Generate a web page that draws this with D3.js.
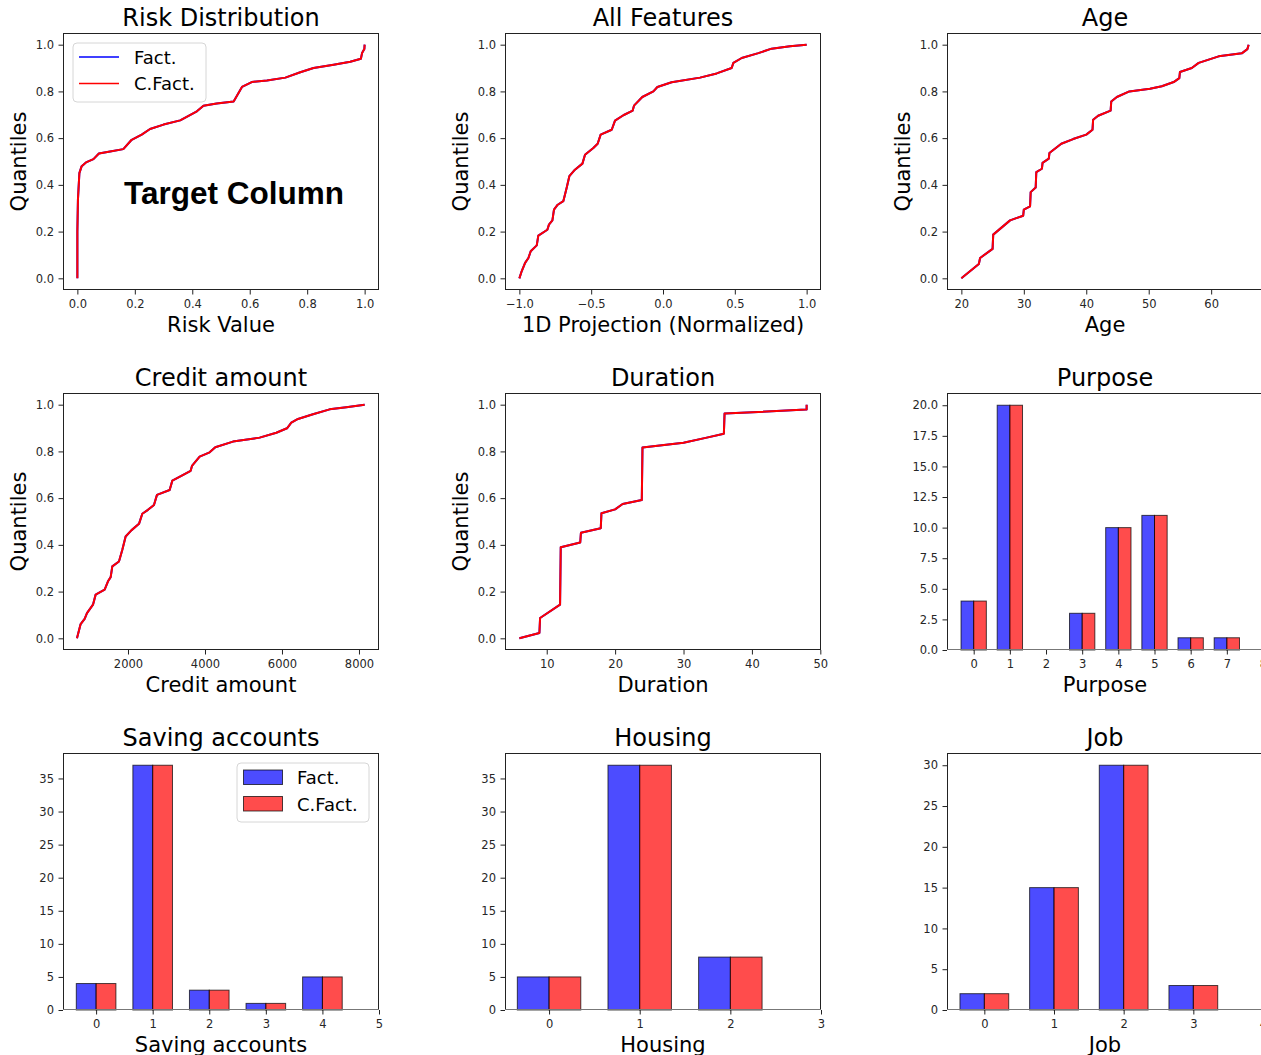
<!DOCTYPE html>
<html>
<head>
<meta charset="utf-8">
<script src="https://cdn.jsdelivr.net/npm/d3@7"></script>
<style>
  body { margin: 0; background: #fff; }
  svg { display: block; font-family: "DejaVu Sans", sans-serif; }
</style>
</head>
<body>
<svg id="fig" width="1261" height="1055"></svg>
<script>
// ---- Quantile curves (value, quantile) ----
const riskValues = [0, 0.0, 0.002, 0.007, 0.015, 0.03, 0.056, 0.075, 0.114, 0.16, 0.189, 0.224, 0.253, 0.3, 0.358, 0.416, 0.439, 0.485, 0.544, 0.573, 0.607, 0.66, 0.724, 0.776, 0.822, 0.892, 0.95, 0.987, 0.991, 0.999, 1.0];
const riskQuantiles = [0, 0.2, 0.337, 0.45, 0.48, 0.496, 0.51, 0.534, 0.543, 0.553, 0.593, 0.615, 0.639, 0.658, 0.676, 0.715, 0.739, 0.748, 0.757, 0.819, 0.84, 0.847, 0.859, 0.882, 0.9, 0.914, 0.927, 0.94, 0.964, 0.981, 1.0];

const projValues = [-1.0, -0.984, -0.96, -0.937, -0.921, -0.879, -0.868, -0.805, -0.794, -0.77, -0.759, -0.733, -0.694, -0.671, -0.652, -0.613, -0.561, -0.543, -0.485, -0.455, -0.434, -0.357, -0.334, -0.276, -0.211, -0.202, -0.144, -0.067, -0.039, 0.06, 0.258, 0.374, 0.478, 0.49, 0.548, 0.664, 0.756, 0.884, 1.0];
const projQuantiles = [0, 0.03, 0.066, 0.087, 0.116, 0.141, 0.183, 0.208, 0.23, 0.248, 0.294, 0.315, 0.33, 0.387, 0.437, 0.465, 0.491, 0.529, 0.558, 0.576, 0.615, 0.636, 0.675, 0.698, 0.718, 0.739, 0.776, 0.8, 0.819, 0.839, 0.859, 0.877, 0.9, 0.922, 0.943, 0.964, 0.983, 0.993, 1.0];

const ageValues = [20, 22.8, 23.0, 25.0, 25.1, 27.8, 29.9, 30.0, 31.0, 31.1, 31.9, 32.0, 32.9, 33.0, 34.0, 34.1, 36.0, 37.9, 40.0, 41.0, 41.1, 41.9, 43.9, 44.0, 44.9, 46.9, 50.2, 52.1, 54.0, 54.9, 55.0, 56.9, 58.0, 61.2, 64.9, 65.8, 66.0];
const ageQuantiles = [0, 0.061, 0.087, 0.126, 0.187, 0.248, 0.268, 0.294, 0.308, 0.369, 0.389, 0.455, 0.469, 0.494, 0.512, 0.536, 0.576, 0.596, 0.615, 0.636, 0.679, 0.696, 0.718, 0.757, 0.776, 0.8, 0.811, 0.822, 0.84, 0.857, 0.883, 0.9, 0.922, 0.95, 0.963, 0.981, 1.0];

const creditValues = [675, 770, 874, 935, 1091, 1160, 1394, 1481, 1550, 1593, 1766, 1853, 1939, 2087, 2286, 2372, 2519, 2675, 2753, 3082, 3152, 3385, 3628, 3662, 3861, 4121, 4268, 4727, 5420, 5853, 6130, 6242, 6416, 6805, 7238, 7671, 8147];
const creditQuantiles = [0, 0.061, 0.083, 0.108, 0.144, 0.187, 0.208, 0.244, 0.262, 0.308, 0.329, 0.379, 0.436, 0.462, 0.49, 0.533, 0.55, 0.571, 0.614, 0.635, 0.675, 0.695, 0.717, 0.738, 0.778, 0.796, 0.818, 0.842, 0.859, 0.88, 0.899, 0.923, 0.939, 0.959, 0.98, 0.989, 1.0];

const durationValues = [6, 8.93, 9.03, 11.95, 12.05, 14.9, 15.0, 17.9, 18.0, 20.0, 21.1, 23.9, 24.0, 30.0, 33.4, 35.9, 36.0, 47.9, 48.0, 48.0];
const durationQuantiles = [0, 0.023, 0.087, 0.144, 0.39, 0.41, 0.452, 0.471, 0.535, 0.552, 0.575, 0.592, 0.817, 0.837, 0.859, 0.876, 0.962, 0.979, 0.979, 1.0];

// ---- Category counts (factual / counterfactual) ----
const purposeCats = [0, 1, 2, 3, 4, 5, 6, 7];
const purposeFact = [4, 20, 0, 3, 10, 11, 1, 1];
const purposeCFact = [4, 20, 0, 3, 10, 11, 1, 1];

const savingCats = [0, 1, 2, 3, 4];
const savingFact = [4, 37, 3, 1, 5];
const savingCFact = [4, 37, 3, 1, 5];

const housingCats = [0, 1, 2];
const housingFact = [5, 37, 8];
const housingCFact = [5, 37, 8];

const jobCats = [0, 1, 2, 3];
const jobFact = [2, 15, 30, 3];
const jobCFact = [2, 15, 30, 3];

// ---- Tick values ----
const unitTicks = [0, 0.2, 0.4, 0.6, 0.8, 1.0];
const projTicks = [-1.0, -0.5, 0.0, 0.5, 1.0];
const ageTicks = [20, 30, 40, 50, 60];
const creditTicks = [2000, 4000, 6000, 8000];
const durationTicks = [10, 20, 30, 40, 50];
const purposeXTicks = [0, 1, 2, 3, 4, 5, 6, 7, 8];
const purposeYTicks = [0, 2.5, 5, 7.5, 10, 12.5, 15, 17.5, 20];
const savingXTicks = [0, 1, 2, 3, 4, 5];
const housingXTicks = [0, 1, 2, 3];
const jobXTicks = [0, 1, 2, 3, 4];
const countTicks35 = [0, 5, 10, 15, 20, 25, 30, 35];
const countTicks30 = [0, 5, 10, 15, 20, 25, 30];

const legendLabels = ["Fact.", "C.Fact."];

// ---- Layout ----
const svg = d3.select("#fig");
const colLeft = [63, 505, 947];
const rowTop = [33, 393, 753];
const W = 316, H = 257;
const FACT = "#0000ff", CFACT = "#ff0000";
const f1 = d3.format(".1f");
const fInt = d3.format("d");

function panel(col, row) {
  return svg.append("g").attr("transform", `translate(${colLeft[col]},${rowTop[row]})`);
}

function axes(g, x, y, xTicks, yTicks, xFmt, yFmt, bottomColor) {
  const ax = g.append("g")
    .attr("transform", `translate(0,${H})`)
    .call(d3.axisBottom(x).tickValues(xTicks).tickFormat(xFmt).tickSize(4.5).tickPadding(5).tickSizeOuter(0));
  const ay = g.append("g")
    .call(d3.axisLeft(y).tickValues(yTicks).tickFormat(yFmt).tickSize(4.5).tickPadding(4.5).tickSizeOuter(0));
  [ax, ay].forEach(a => {
    a.select(".domain").remove();
    a.attr("font-family", "DejaVu Sans").attr("font-size", 11.5);
    a.selectAll("line").attr("stroke", "#222");
    a.selectAll("text").attr("fill", "#262626");
  });
  // spines
  g.append("line").attr("x1", 0.5).attr("x2", 0.5).attr("y1", 0).attr("y2", H).attr("stroke", "#222");
  g.append("line").attr("x1", W - 0.5).attr("x2", W - 0.5).attr("y1", 0).attr("y2", H).attr("stroke", "#222");
  g.append("line").attr("x1", 0).attr("x2", W).attr("y1", 0.5).attr("y2", 0.5).attr("stroke", "#222");
  g.append("line").attr("x1", 0).attr("x2", W).attr("y1", H - 0.5).attr("y2", H - 0.5).attr("stroke", bottomColor || "#222");
}

function labels(g, title, xlabel, ylabel) {
  g.append("text").attr("x", W / 2).attr("y", -7).attr("text-anchor", "middle")
    .attr("font-size", 24).attr("fill", "#000").text(title);
  g.append("text").attr("x", W / 2).attr("y", H + 41.5).attr("text-anchor", "middle")
    .attr("font-size", 21).attr("fill", "#000").text(xlabel);
  if (ylabel) {
    g.append("text").attr("transform", `translate(-44,${H / 2}) rotate(-90)`)
      .attr("text-anchor", "middle").attr("dominant-baseline", "central")
      .attr("font-size", 21).attr("fill", "#000").text(ylabel);
  }
}

function quantilePanel(col, row, spec) {
  const g = panel(col, row);
  const x = d3.scaleLinear().domain(spec.xDomain).range([0, W]);
  const y = d3.scaleLinear().domain([-0.05, 1.05]).range([H, 0]);
  const pts = spec.values.map((v, i) => [v, spec.quantiles[i]]);
  const line = d3.line().x(d => x(d[0])).y(d => y(d[1]));
  g.append("path").datum(pts).attr("d", line).attr("fill", "none")
    .attr("stroke", FACT).attr("stroke-width", 2).attr("stroke-linejoin", "round");
  g.append("path").datum(pts).attr("d", line).attr("fill", "none")
    .attr("stroke", CFACT).attr("stroke-width", 2).attr("stroke-linejoin", "round");
  axes(g, x, y, spec.xTicks, unitTicks, spec.xFmt, f1);
  labels(g, spec.title, spec.xlabel, "Quantiles");
  return g;
}

function barPanel(col, row, spec) {
  const g = panel(col, row);
  const x = d3.scaleLinear().domain(spec.xDomain).range([0, W]);
  const y = d3.scaleLinear().domain(spec.yDomain).range([H, 0]);
  const bw = 0.35;
  const series = [
    { vals: spec.fact, offset: -bw, color: "rgba(0,0,255,0.7)" },
    { vals: spec.cfact, offset: 0, color: "rgba(255,0,0,0.7)" }
  ];
  series.forEach(s => {
    g.selectAll(null).data(spec.cats).enter().append("rect")
      .attr("x", c => x(c + s.offset))
      .attr("width", x(bw) - x(0))
      .attr("y", (c, i) => y(s.vals[i]))
      .attr("height", (c, i) => y(0) - y(s.vals[i]))
      .attr("fill", s.color)
      .attr("stroke", "rgba(0,0,0,0.7)").attr("stroke-width", 1);
  });
  axes(g, x, y, spec.xTicks, spec.yTicks, fInt, spec.yFmt, "#777");
  labels(g, spec.title, spec.xlabel, null);
  return g;
}

// ---- Row 1 ----
const g1 = quantilePanel(0, 0, {
  title: "Risk Distribution", xlabel: "Risk Value",
  values: riskValues, quantiles: riskQuantiles,
  xDomain: [-0.05, 1.05], xTicks: unitTicks, xFmt: f1
});
g1.append("text").attr("x", 171).attr("y", 171).attr("text-anchor", "middle")
  .attr("font-family", "Liberation Sans, Arial, sans-serif").attr("font-weight", "bold")
  .attr("font-size", 31.5).attr("fill", "#000").text("Target Column");

// line legend
const lg = g1.append("g").attr("transform", "translate(10,10)");
lg.append("rect").attr("x", 0).attr("y", 0).attr("width", 133).attr("height", 59)
  .attr("rx", 4).attr("fill", "rgba(255,255,255,0.8)").attr("stroke", "#d6d6d6");
[FACT, CFACT].forEach((c, i) => {
  lg.append("line").attr("x1", 6).attr("x2", 46).attr("y1", 14 + i * 26.5).attr("y2", 14 + i * 26.5)
    .attr("stroke", c).attr("stroke-width", 1.7);
  lg.append("text").attr("x", 61).attr("y", 14 + i * 26.5).attr("dominant-baseline", "central")
    .attr("font-size", 18).attr("fill", "#000").text(legendLabels[i]);
});

quantilePanel(1, 0, {
  title: "All Features", xlabel: "1D Projection (Normalized)",
  values: projValues, quantiles: projQuantiles,
  xDomain: [-1.1, 1.1], xTicks: projTicks, xFmt: f1
});

quantilePanel(2, 0, {
  title: "Age", xlabel: "Age",
  values: ageValues, quantiles: ageQuantiles,
  xDomain: [17.7, 68.3], xTicks: ageTicks, xFmt: fInt
});

// ---- Row 2 ----
quantilePanel(0, 1, {
  title: "Credit amount", xlabel: "Credit amount",
  values: creditValues, quantiles: creditQuantiles,
  xDomain: [312, 8520], xTicks: creditTicks, xFmt: fInt
});

quantilePanel(1, 1, {
  title: "Duration", xlabel: "Duration",
  values: durationValues, quantiles: durationQuantiles,
  xDomain: [3.9, 50.1], xTicks: durationTicks, xFmt: fInt
});

barPanel(2, 1, {
  title: "Purpose", xlabel: "Purpose",
  cats: purposeCats, fact: purposeFact, cfact: purposeCFact,
  xDomain: [-0.738, 8], yDomain: [0, 21],
  xTicks: purposeXTicks, yTicks: purposeYTicks, yFmt: f1
});

// ---- Row 3 ----
const g7 = barPanel(0, 2, {
  title: "Saving accounts", xlabel: "Saving accounts",
  cats: savingCats, fact: savingFact, cfact: savingCFact,
  xDomain: [-0.585, 5], yDomain: [0, 38.85],
  xTicks: savingXTicks, yTicks: countTicks35, yFmt: fInt
});

// patch legend
const pg = g7.append("g").attr("transform", "translate(174,10)");
pg.append("rect").attr("x", 0).attr("y", 0).attr("width", 132).attr("height", 59)
  .attr("rx", 4).attr("fill", "rgba(255,255,255,0.8)").attr("stroke", "#d6d6d6");
["rgba(0,0,255,0.7)", "rgba(255,0,0,0.7)"].forEach((c, i) => {
  pg.append("rect").attr("x", 6.5).attr("y", 7 + i * 26.5).attr("width", 39).attr("height", 14.5)
    .attr("fill", c).attr("stroke", "rgba(0,0,0,0.7)");
  pg.append("text").attr("x", 60).attr("y", 14.5 + i * 26.5).attr("dominant-baseline", "central")
    .attr("font-size", 18).attr("fill", "#000").text(legendLabels[i]);
});

barPanel(1, 2, {
  title: "Housing", xlabel: "Housing",
  cats: housingCats, fact: housingFact, cfact: housingCFact,
  xDomain: [-0.486, 3], yDomain: [0, 38.85],
  xTicks: housingXTicks, yTicks: countTicks35, yFmt: fInt
});

barPanel(2, 2, {
  title: "Job", xlabel: "Job",
  cats: jobCats, fact: jobFact, cfact: jobCFact,
  xDomain: [-0.536, 4], yDomain: [0, 31.5],
  xTicks: jobXTicks, yTicks: countTicks30, yFmt: fInt
});
</script>
</body>
</html>
